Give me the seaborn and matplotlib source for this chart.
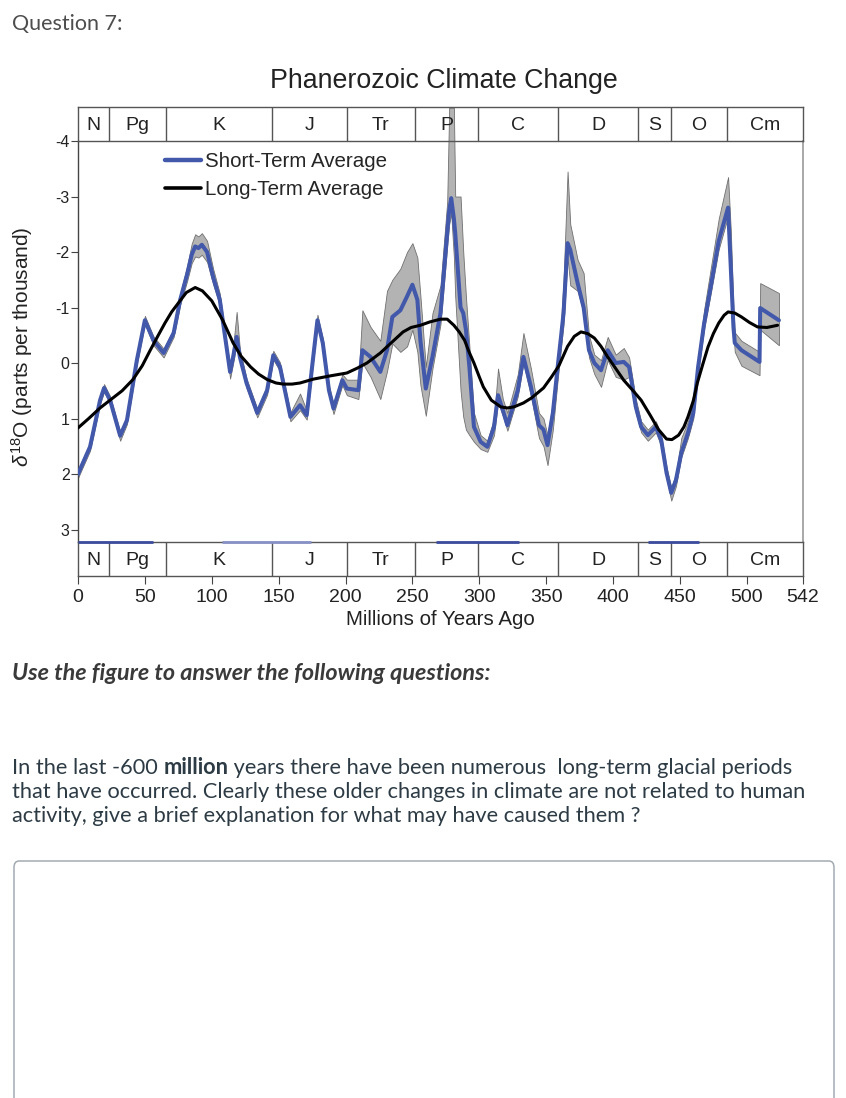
import numpy as np
import pandas as pd
import matplotlib
matplotlib.use('Agg')
import matplotlib.pyplot as plt
import seaborn as sns
from matplotlib.patches import FancyBboxPatch

# short-term average (blue) and its grey uncertainty band, millions of years ago
myr = [0, 9, 16.5, 19.5, 24, 31.5, 36.6, 44, 50, 56.4, 64, 71.5, 76.4, 81.6, 85, 87.6, 90, 92.6, 96.5, 101,
       106, 111.4, 113.7, 116, 118.6, 121, 126, 134, 141.4, 146, 151, 158.8, 166, 171, 175, 179, 183, 187.6, 191, 197.6,
       201, 209.6, 212.6, 218.7, 226, 231, 235, 241, 246, 250, 253.7, 256, 260, 265, 271, 276, 277.5, 279, 281, 282,
       286, 288, 290, 292.6, 296, 301, 306, 311, 314, 317.6, 321, 328.8, 333, 338.6, 344.6, 348, 351, 355, 358.6, 361,
       363, 366, 368, 373.5, 378, 382, 386, 391, 396, 402, 408, 412, 417, 421, 426, 432, 436, 440, 443.5, 447,
       451, 456, 460, 463.6, 468, 473, 479, 486, 488, 490, 491, 496, 509.5, 510, 524]
short_term = [2.00, 1.51, 0.67, 0.45, 0.67, 1.31, 1.03, -0.05, -0.77, -0.41, -0.18, -0.54, -1.14, -1.60, -1.95, -2.10, -2.07, -2.13, -2.00, -1.55,
              -1.14, -0.23, 0.16, -0.11, -0.47, -0.11, 0.36, 0.90, 0.49, -0.14, 0.07, 0.97, 0.76, 0.94, 0.07, -0.77, -0.36, 0.49, 0.82, 0.31,
              0.46, 0.49, -0.23, -0.11, 0.16, -0.23, -0.83, -0.95, -1.20, -1.41, -1.14, -0.40, 0.46, -0.11, -0.90, -2.34, -2.75, -2.97, -2.60, -2.34,
              -1.00, -0.90, -0.60, 0.07, 1.15, 1.42, 1.51, 1.15, 0.58, 0.85, 1.12, 0.49, -0.11, 0.43, 1.12, 1.20, 1.48, 0.90, 0.07, -0.45,
              -0.90, -2.16, -2.04, -1.44, -1.00, -0.23, 0.00, 0.13, -0.23, 0.00, -0.02, 0.07, 0.79, 1.15, 1.30, 1.15, 1.39, 1.98, 2.34, 2.11,
              1.62, 1.26, 0.90, 0.07, -0.70, -1.37, -2.20, -2.80, -1.73, -0.65, -0.36, -0.23, -0.02, -0.99, -0.77]
band_top = [1.93, 1.44, 0.60, 0.38, 0.60, 1.24, 0.96, -0.12, -0.85, -0.48, -0.26, -0.62, -1.25, -1.75, -2.15, -2.32, -2.28, -2.34, -2.20, -1.70,
            -1.25, -0.30, 0.05, -0.30, -0.92, -0.25, 0.28, 0.82, 0.41, -0.22, -0.01, 0.89, 0.55, 0.86, -0.01, -0.87, -0.44, 0.41, 0.74, 0.20,
            0.30, 0.30, -0.95, -0.65, -0.40, -1.30, -1.50, -1.70, -2.00, -2.16, -1.90, -1.20, 0.07, -0.90, -1.40, -2.90, -4.60, -4.60, -4.60, -3.00,
            -3.00, -2.00, -1.20, -0.30, 0.90, 1.30, 1.40, 1.00, 0.10, 0.65, 0.90, 0.20, -0.54, 0.10, 0.90, 1.00, 1.30, 0.70, -0.10, -0.70,
            -1.50, -3.45, -2.50, -1.86, -1.62, -0.50, -0.15, -0.05, -0.47, -0.15, -0.27, -0.10, 0.65, 1.05, 1.20, 1.05, 1.30, 1.88, 2.24, 2.00,
            1.35, 1.05, 0.70, -0.10, -0.95, -1.70, -2.60, -3.35, -2.40, -1.00, -0.55, -0.40, -0.20, -1.44, -1.26]
band_bottom = [2.07, 1.58, 0.74, 0.52, 0.74, 1.40, 1.10, 0.02, -0.70, -0.32, -0.10, -0.47, -1.05, -1.48, -1.80, -1.92, -1.90, -1.95, -1.82, -1.42,
               -1.04, -0.15, 0.28, 0.00, -0.35, -0.02, 0.45, 0.98, 0.57, -0.06, 0.15, 1.05, 0.85, 1.02, 0.15, -0.69, -0.28, 0.57, 0.92, 0.40,
               0.58, 0.65, 0.00, 0.25, 0.65, 0.15, -0.35, -0.20, -0.30, -0.60, -0.20, 0.40, 0.95, 0.10, -0.70, -2.10, -2.50, -2.70, -1.90, -1.20,
               0.50, 0.97, 1.20, 1.30, 1.42, 1.55, 1.60, 1.30, 0.70, 0.95, 1.22, 0.60, 0.00, 0.60, 1.35, 1.50, 1.84, 1.20, 0.30, -0.25,
               -0.70, -1.90, -1.40, -1.30, -0.90, -0.10, 0.20, 0.43, -0.05, 0.25, 0.30, 0.25, 0.90, 1.25, 1.40, 1.25, 1.50, 2.08, 2.48, 2.22,
               1.70, 1.35, 1.00, 0.17, -0.60, -1.25, -2.05, -2.65, -1.60, -0.50, -0.20, 0.05, 0.22, -0.60, -0.32]

# long-term average (black)
long_myr = [0, 8, 16.5, 25, 33, 41, 48, 54, 60, 65, 70, 75, 81, 87.6, 93, 100, 108, 116, 122, 129,
            135, 141.6, 148, 153.6, 160, 166, 176, 189, 201, 209, 216, 226, 234, 243, 249, 256, 263, 271, 276, 281,
            285, 289, 292, 296, 300, 303, 309, 316, 321, 326, 333, 339, 348, 354, 359.5, 366, 371, 376, 381, 386,
            391, 396, 402, 408, 415, 421, 428, 434, 440, 444, 449, 453, 456, 460, 463, 467, 471, 475, 479, 483,
            486, 491, 496, 502, 508, 515, 523]
long_term = [1.17, 1.00, 0.81, 0.65, 0.50, 0.30, 0.05, -0.23, -0.50, -0.72, -0.92, -1.08, -1.27, -1.36, -1.30, -1.12, -0.78, -0.36, -0.12, 0.07,
             0.20, 0.30, 0.36, 0.38, 0.38, 0.36, 0.29, 0.23, 0.18, 0.09, 0.00, -0.18, -0.36, -0.56, -0.64, -0.68, -0.74, -0.79, -0.79, -0.68,
             -0.56, -0.41, -0.22, 0.00, 0.25, 0.43, 0.67, 0.79, 0.81, 0.79, 0.72, 0.63, 0.45, 0.25, 0.05, -0.30, -0.48, -0.56, -0.53, -0.45,
             -0.30, -0.11, 0.10, 0.31, 0.50, 0.67, 0.95, 1.20, 1.37, 1.38, 1.30, 1.15, 0.97, 0.68, 0.36, 0.03, -0.29, -0.53, -0.72, -0.86,
             -0.92, -0.90, -0.83, -0.73, -0.65, -0.64, -0.68]

periods = ['N', 'Pg', 'K', 'J', 'Tr', 'P', 'C', 'D', 'S', 'O', 'Cm']
period_edges = [0, 23, 66, 145, 201, 252, 299, 359, 419, 443, 485, 542]
glacial_start = [0, 108, 268, 426]
glacial_end = [56, 174, 330, 464]
glacial_colors = ['#3b4c9e', '#8791c6', '#3b4c9e', '#3b4c9e']
x_ticks = [0, 50, 100, 150, 200, 250, 300, 350, 400, 450, 500, 542]
y_ticks = [-4, -3, -2, -1, 0, 1, 2, 3]

W, H = 846, 1098
sns.set_style('white')
plt.rcParams['font.family'] = ['Liberation Sans', 'DejaVu Sans']
plt.rcParams['mathtext.fontset'] = 'custom'
plt.rcParams['mathtext.rm'] = 'Liberation Sans'
plt.rcParams['mathtext.it'] = 'Liberation Sans:italic'

fig = plt.figure(figsize=(W / 100, H / 100), dpi=100)
fig.patch.set_facecolor('white')


def box(x0, y0, x1, y1):
    # pixel box (top-left origin) -> figure fraction rect
    return [x0 / W, 1 - y1 / H, (x1 - x0) / W, (y1 - y0) / H]


ax = fig.add_axes(box(78, 141, 803, 542))
ax_top = fig.add_axes(box(78, 107, 803, 141))
ax_bot = fig.add_axes(box(78, 542, 803, 576))

blue = '#4258ab'
ax.fill_between(myr, band_top, band_bottom, color='#b3b3b3', edgecolor='#707070',
                linewidth=0.6, zorder=1, clip_on=False)
st = pd.DataFrame({'myr': myr, 'd18O': short_term})
lt = pd.DataFrame({'myr': long_myr, 'd18O': long_term})
sns.lineplot(data=st, x='myr', y='d18O', sort=False, estimator=None, color=blue,
             linewidth=2.9, label='Short-Term Average', ax=ax, zorder=3)
sns.lineplot(data=lt, x='myr', y='d18O', sort=False, estimator=None, color='black',
             linewidth=2.2, label='Long-Term Average', ax=ax, zorder=4)
for ln in ax.get_lines():
    ln.set_solid_joinstyle('round')

ax.set_xlim(0, 542)
ax.set_ylim(3.225, -4)
ax.set_yticks(y_ticks)
ax.set_yticklabels([str(v) for v in y_ticks], fontsize=11.5, color='#222222')
ax.tick_params(axis='y', left=True, length=5, width=0.8, pad=1, color='#444444')
ax.set_xticks([])
ax.set_xlabel('')
ax.set_ylabel('')
ax.patch.set_alpha(0)
for s in ['top', 'bottom']:
    ax.spines[s].set_visible(False)
ax.spines['left'].set_color('#444444')
ax.spines['right'].set_color('#999999')
ax.spines['left'].set_linewidth(1)
ax.spines['right'].set_linewidth(1.2)

leg = ax.legend(loc='upper left', bbox_to_anchor=(0.12, 0.973), frameon=False, fontsize=14.8,
                handlelength=1.75, handletextpad=0.2, labelspacing=0.45, borderpad=0, borderaxespad=0)
leg.get_lines()[0].set_linewidth(3.2)
leg.get_lines()[1].set_linewidth(2.6)

# geologic time scale boxes
for b in [ax_top, ax_bot]:
    b.set_xlim(0, 542)
    b.set_ylim(0, 1)
    b.patch.set_alpha(0)
    b.set_yticks([])
    for s in b.spines.values():
        s.set_color('#555555')
        s.set_linewidth(1)
    b.vlines(period_edges[1:-1], 0, 1, color='#555555', linewidth=1)
    for name, a, c in zip(periods, period_edges[:-1], period_edges[1:]):
        b.text((a + c) / 2, 0.47, name, ha='center', va='center', fontsize=14, color='#222222')
ax_top.set_xticks([])
ax_bot.set_xticks(x_ticks)
ax_bot.set_xticklabels([str(v) for v in x_ticks], fontsize=14, color='#222222')
ax_bot.tick_params(axis='x', bottom=True, length=6, width=0.8, pad=3, color='#444444')
ax_bot.hlines([1] * len(glacial_start), glacial_start, glacial_end, colors=glacial_colors,
              linewidth=2.0, clip_on=False, zorder=5)
ax_bot.set_xlabel('Millions of Years Ago', fontsize=14.8, labelpad=3, color='#222222')

fig.text(444 / W, 1 - 81 / H, 'Phanerozoic Climate Change', ha='center', va='center',
         fontsize=19.3, color='#222222')
fig.text(22 / W, 1 - 347 / H, r'$\delta^{18}$O (parts per thousand)', rotation=90,
         ha='center', va='center', fontsize=15, color='#222222')

# page text around the figure
fig.text(12 / W, 1 - 24 / H, 'Question 7:', ha='left', va='center', fontsize=15.5,
         family=['Lato', 'DejaVu Sans'], color='#4d4d4d')
fig.text(12 / W, 1 - 673 / H, 'Use the figure to answer the following questions:', ha='left',
         va='center', fontsize=16.8, family=['Lato', 'DejaVu Sans'], fontweight='bold',
         fontstyle='italic', color='#3a3a3a')

fig.canvas.draw()
renderer = fig.canvas.get_renderer()
lines = [
    [('In the last -600 ', 'normal'), ('million', 'bold'),
     (' years there have been numerous  long-term glacial periods', 'normal')],
    [('that have occurred. Clearly these older changes in climate are not related to human', 'normal')],
    [('activity, give a brief explanation for what may have caused them ?', 'normal')],
]
for row, runs in zip([768, 792, 816], lines):
    x = 12
    for s, w in runs:
        t = fig.text(x / W, 1 - row / H, s, ha='left', va='center', fontsize=15.7,
                     family=['Lato', 'DejaVu Sans'], fontweight=w, color='#2d3b45')
        x += t.get_window_extent(renderer=renderer).width

answer = FancyBboxPatch((14 / W, -0.05), 820 / W, (1098 - 861) / H + 0.05,
                        boxstyle='round,pad=0,rounding_size=0.006', transform=fig.transFigure,
                        facecolor='white', edgecolor='#a3abb1', linewidth=1.1)
fig.patches.append(answer)

fig.savefig('out.png', dpi=100)
